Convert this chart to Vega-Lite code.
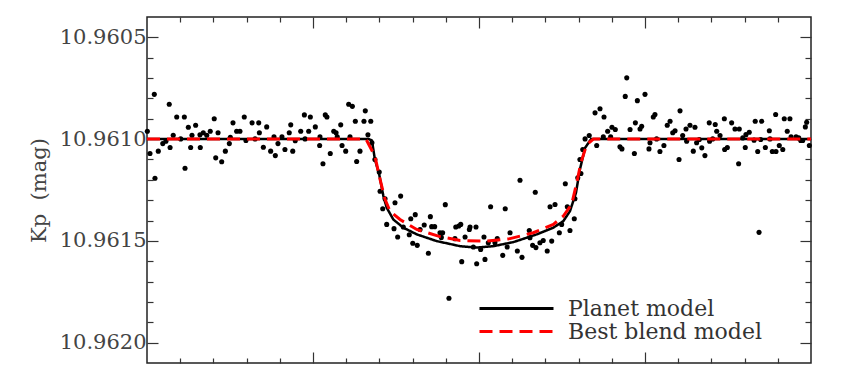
{
  "$schema": "https://vega.github.io/schema/vega-lite/v6.json",
  "width": 664,
  "height": 346,
  "autosize": {"type": "none"},
  "padding": {"left": 147, "top": 17, "right": 37, "bottom": 6},
  "background": "white",
  "config": {
    "view": {"stroke": "#222", "strokeWidth": 1.5},
    "axis": {
      "domain": false, "grid": false, "tickColor": "#333", "tickWidth": 1.2,
      "labelFont": "DejaVu Serif", "labelFontSize": 21, "labelColor": "#444",
      "titleFont": "DejaVu Serif", "titleFontSize": 21, "titleFontWeight": "normal", "titleColor": "#444"
    }
  },
  "datasets": {
    "pts": [
      {"x":-1.998,"mag":10.960961},{"x":-1.956,"mag":10.960780},{"x":-1.982,"mag":10.961071},{"x":-1.952,"mag":10.961192},{"x":-1.932,"mag":10.961059},{"x":-1.905,"mag":10.961022},{"x":-1.886,"mag":10.961010},{"x":-1.866,"mag":10.960829},{"x":-1.861,"mag":10.961041},{"x":-1.842,"mag":10.960981},{"x":-1.821,"mag":10.960891},{"x":-1.797,"mag":10.960999},{"x":-1.775,"mag":10.960891},{"x":-1.771,"mag":10.961143},{"x":-1.751,"mag":10.960942},{"x":-1.737,"mag":10.961041},{"x":-1.729,"mag":10.960981},{"x":-1.707,"mag":10.960932},{"x":-1.681,"mag":10.960979},{"x":-1.679,"mag":10.961041},{"x":-1.661,"mag":10.960969},{"x":-1.640,"mag":10.960981},{"x":-1.619,"mag":10.960961},{"x":-1.595,"mag":10.960900},{"x":-1.586,"mag":10.961092},{"x":-1.572,"mag":10.960969},{"x":-1.550,"mag":10.961111},{"x":-1.528,"mag":10.961059},{"x":-1.504,"mag":10.961022},{"x":-1.498,"mag":10.960991},{"x":-1.482,"mag":10.960920},{"x":-1.460,"mag":10.960961},{"x":-1.440,"mag":10.960961},{"x":-1.414,"mag":10.960891},{"x":-1.404,"mag":10.961007},{"x":-1.367,"mag":10.960920},{"x":-1.349,"mag":10.960999},{"x":-1.327,"mag":10.960920},{"x":-1.323,"mag":10.960969},{"x":-1.299,"mag":10.961040},{"x":-1.279,"mag":10.960940},{"x":-1.255,"mag":10.961059},{"x":-1.235,"mag":10.960989},{"x":-1.227,"mag":10.961081},{"x":-1.211,"mag":10.961022},{"x":-1.187,"mag":10.960989},{"x":-1.169,"mag":10.961051},{"x":-1.143,"mag":10.960969},{"x":-1.134,"mag":10.960930},{"x":-1.122,"mag":10.961059},{"x":-1.107,"mag":10.961008},{"x":-1.074,"mag":10.960961},{"x":-1.052,"mag":10.960881},{"x":-1.048,"mag":10.960999},{"x":-1.026,"mag":10.960961},{"x":-1.016,"mag":10.960891},{"x":-0.986,"mag":10.960940},{"x":-0.960,"mag":10.961031},{"x":-0.958,"mag":10.960989},{"x":-0.940,"mag":10.961121},{"x":-0.926,"mag":10.960881},{"x":-0.916,"mag":10.960891},{"x":-0.896,"mag":10.961071},{"x":-0.875,"mag":10.960961},{"x":-0.861,"mag":10.960969},{"x":-0.854,"mag":10.960989},{"x":-0.833,"mag":10.960930},{"x":-0.825,"mag":10.961031},{"x":-0.803,"mag":10.961059},{"x":-0.785,"mag":10.960829},{"x":-0.763,"mag":10.960839},{"x":-0.777,"mag":10.960989},{"x":-0.745,"mag":10.960912},{"x":-0.737,"mag":10.961110},{"x":-0.717,"mag":10.961059},{"x":-0.693,"mag":10.960912},{"x":-0.685,"mag":10.960861},{"x":-0.669,"mag":10.960979},{"x":-0.652,"mag":10.960912},{"x":-0.645,"mag":10.961018},
      {"x":-0.627,"mag":10.961100},{"x":-0.601,"mag":10.961162},{"x":-0.596,"mag":10.961256},{"x":-0.566,"mag":10.961293},{"x":-0.580,"mag":10.961342},{"x":-0.556,"mag":10.961419},{"x":-0.512,"mag":10.961440},{"x":-0.506,"mag":10.961313},{"x":-0.472,"mag":10.961280},{"x":-0.490,"mag":10.961481},{"x":-0.456,"mag":10.961432},{"x":-0.420,"mag":10.961470},{"x":-0.411,"mag":10.961391},{"x":-0.399,"mag":10.961512},{"x":-0.384,"mag":10.961371},{"x":-0.372,"mag":10.961522},{"x":-0.355,"mag":10.961444},{"x":-0.330,"mag":10.961422},{"x":-0.305,"mag":10.961561},{"x":-0.293,"mag":10.961381},{"x":-0.285,"mag":10.961430},{"x":-0.267,"mag":10.961430},{"x":-0.235,"mag":10.961460},{"x":-0.219,"mag":10.961460},{"x":-0.227,"mag":10.961483},{"x":-0.203,"mag":10.961322},{"x":-0.181,"mag":10.961782},{"x":-0.145,"mag":10.961489},{"x":-0.140,"mag":10.961432},{"x":-0.122,"mag":10.961427},{"x":-0.110,"mag":10.961419},{"x":-0.104,"mag":10.961602},{"x":-0.084,"mag":10.961481},{"x":-0.058,"mag":10.961444},{"x":-0.054,"mag":10.961432},{"x":-0.034,"mag":10.961530},{"x":-0.018,"mag":10.961432},{"x":-0.014,"mag":10.961612},{"x":0.010,"mag":10.961542},{"x":0.030,"mag":10.961481},{"x":0.036,"mag":10.961591},{"x":0.056,"mag":10.961509},{"x":0.070,"mag":10.961332},{"x":0.096,"mag":10.961509},{"x":0.110,"mag":10.961489},{"x":0.143,"mag":10.961571},{"x":0.158,"mag":10.961342},{"x":0.170,"mag":10.961530},{"x":0.187,"mag":10.961460},{"x":0.231,"mag":10.961550},{"x":0.259,"mag":10.961581},{"x":0.247,"mag":10.961202},{"x":0.303,"mag":10.961449},{"x":0.307,"mag":10.961484},{"x":0.323,"mag":10.961522},{"x":0.343,"mag":10.961533},{"x":0.339,"mag":10.961261},{"x":0.367,"mag":10.961509},{"x":0.387,"mag":10.961498},{"x":0.411,"mag":10.961550},{"x":0.428,"mag":10.961332},{"x":0.438,"mag":10.961501},{"x":0.458,"mag":10.961321},{"x":0.484,"mag":10.961460},{"x":0.498,"mag":10.961419},{"x":0.520,"mag":10.961219},{"x":0.532,"mag":10.961332},{"x":0.548,"mag":10.961449},{"x":0.574,"mag":10.961391},{"x":0.578,"mag":10.961293},{"x":0.595,"mag":10.961190},{"x":0.614,"mag":10.961169},{"x":0.608,"mag":10.961100},{"x":0.625,"mag":10.961051},{"x":0.639,"mag":10.960999},{"x":0.664,"mag":10.960982},{"x":0.709,"mag":10.961031},{"x":0.749,"mag":10.960989},
      {"x":0.699,"mag":10.960871},{"x":0.729,"mag":10.960851},{"x":0.753,"mag":10.960891},{"x":0.775,"mag":10.960961},{"x":0.793,"mag":10.960989},{"x":0.801,"mag":10.960942},{"x":0.821,"mag":10.960953},{"x":0.849,"mag":10.961038},{"x":0.861,"mag":10.961048},{"x":0.890,"mag":10.960699},{"x":0.881,"mag":10.960790},{"x":0.910,"mag":10.960953},{"x":0.936,"mag":10.961071},{"x":0.942,"mag":10.960920},{"x":0.954,"mag":10.960811},{"x":0.970,"mag":10.960950},{"x":0.980,"mag":10.960937},{"x":1.000,"mag":10.960780},{"x":1.024,"mag":10.961048},{"x":1.030,"mag":10.961018},{"x":1.050,"mag":10.960891},{"x":1.060,"mag":10.960879},{"x":1.070,"mag":10.960999},{"x":1.090,"mag":10.961061},{"x":1.114,"mag":10.961031},{"x":1.134,"mag":10.960932},{"x":1.151,"mag":10.960912},{"x":1.167,"mag":10.960969},{"x":1.181,"mag":10.960959},{"x":1.205,"mag":10.961100},{"x":1.211,"mag":10.960861},{"x":1.227,"mag":10.960982},{"x":1.247,"mag":10.960950},{"x":1.251,"mag":10.961010},{"x":1.271,"mag":10.960932},{"x":1.301,"mag":10.960942},{"x":1.311,"mag":10.961018},{"x":1.291,"mag":10.961059},{"x":1.327,"mag":10.961002},{"x":1.342,"mag":10.961043},{"x":1.361,"mag":10.961081},{"x":1.387,"mag":10.960920},{"x":1.389,"mag":10.961010},{"x":1.408,"mag":10.960999},{"x":1.423,"mag":10.960928},{"x":1.432,"mag":10.960961},{"x":1.452,"mag":10.960982},{"x":1.478,"mag":10.960900},{"x":1.480,"mag":10.961051},{"x":1.496,"mag":10.961041},{"x":1.522,"mag":10.960920},{"x":1.542,"mag":10.960950},{"x":1.568,"mag":10.960950},{"x":1.564,"mag":10.961121},{"x":1.589,"mag":10.960994},{"x":1.608,"mag":10.960978},{"x":1.628,"mag":10.960966},{"x":1.604,"mag":10.961041},{"x":1.657,"mag":10.961005},{"x":1.664,"mag":10.960912},{"x":1.679,"mag":10.961061},{"x":1.687,"mag":10.961458},{"x":1.703,"mag":10.960912},{"x":1.697,"mag":10.961002},{"x":1.725,"mag":10.961041},{"x":1.749,"mag":10.960959},{"x":1.753,"mag":10.960999},{"x":1.767,"mag":10.961061},{"x":1.787,"mag":10.960879},{"x":1.789,"mag":10.961061},{"x":1.809,"mag":10.961031},{"x":1.830,"mag":10.961051},{"x":1.839,"mag":10.960900},{"x":1.857,"mag":10.960961},{"x":1.873,"mag":10.960900},{"x":1.880,"mag":10.960989},{"x":1.910,"mag":10.960989},{"x":1.926,"mag":10.960994},{"x":1.938,"mag":10.961007},{"x":1.950,"mag":10.961007},{"x":1.966,"mag":10.960940},{"x":1.974,"mag":10.960917},{"x":1.990,"mag":10.961031}
    ],
    "planet": [
      {"model":"Planet model","x":-2.0,"mag":10.9610},{"model":"Planet model","x":-0.663,"mag":10.9610},{"model":"Planet model","x":-0.645,"mag":10.961007},{"model":"Planet model","x":-0.627,"mag":10.961100},{"model":"Planet model","x":-0.601,"mag":10.961174},{"model":"Planet model","x":-0.576,"mag":10.961280},{"model":"Planet model","x":-0.556,"mag":10.961337},{"model":"Planet model","x":-0.516,"mag":10.961395},{"model":"Planet model","x":-0.456,"mag":10.961435},{"model":"Planet model","x":-0.375,"mag":10.961468},{"model":"Planet model","x":-0.255,"mag":10.961501},{"model":"Planet model","x":-0.114,"mag":10.961526},{"model":"Planet model","x":-0.014,"mag":10.961533},{"model":"Planet model","x":0.086,"mag":10.961526},{"model":"Planet model","x":0.207,"mag":10.961506},{"model":"Planet model","x":0.348,"mag":10.961468},{"model":"Planet model","x":0.448,"mag":10.961435},{"model":"Planet model","x":0.508,"mag":10.961403},{"model":"Planet model","x":0.548,"mag":10.961354},{"model":"Planet model","x":0.584,"mag":10.961264},{"model":"Planet model","x":0.608,"mag":10.961149},{"model":"Planet model","x":0.639,"mag":10.961043},{"model":"Planet model","x":0.675,"mag":10.9610},{"model":"Planet model","x":2.0,"mag":10.9610}
    ],
    "blend": [
      {"model":"Best blend model","x":-2.0,"mag":10.9610},{"model":"Best blend model","x":-0.681,"mag":10.9610},{"model":"Best blend model","x":-0.627,"mag":10.961084},{"model":"Best blend model","x":-0.596,"mag":10.961198},{"model":"Best blend model","x":-0.566,"mag":10.961296},{"model":"Best blend model","x":-0.536,"mag":10.961354},{"model":"Best blend model","x":-0.476,"mag":10.961395},{"model":"Best blend model","x":-0.375,"mag":10.961444},{"model":"Best blend model","x":-0.235,"mag":10.961479},{"model":"Best blend model","x":-0.114,"mag":10.961498},{"model":"Best blend model","x":0.046,"mag":10.961501},{"model":"Best blend model","x":0.187,"mag":10.961489},{"model":"Best blend model","x":0.327,"mag":10.961460},{"model":"Best blend model","x":0.448,"mag":10.961419},{"model":"Best blend model","x":0.508,"mag":10.961378},{"model":"Best blend model","x":0.558,"mag":10.961321},{"model":"Best blend model","x":0.589,"mag":10.961214},{"model":"Best blend model","x":0.614,"mag":10.961116},{"model":"Best blend model","x":0.649,"mag":10.961027},{"model":"Best blend model","x":0.689,"mag":10.9610},{"model":"Best blend model","x":2.0,"mag":10.9610}
    ]
  },
  "resolve": {"axis": {"x": "independent", "y": "independent"}},
  "layer": [
    {
      "data": {"name": "pts"},
      "mark": {"type": "circle", "size": 26, "color": "black", "opacity": 1},
      "encoding": {
        "x": {"field": "x", "type": "quantitative", "scale": {"domain": [-2, 2], "nice": false, "zero": false},
          "axis": {"orient": "bottom", "title": null, "labels": false,
            "values": [-1.8,-1.6,-1.4,-1.2,-1,-0.8,-0.6,-0.4,-0.2,0,0.2,0.4,0.6,0.8,1,1.2,1.4,1.6,1.8],
            "tickSize": {"condition": {"test": "abs(datum.value - round(datum.value)) < 0.01", "value": -11}, "value": -5}}},
        "y": {"field": "mag", "type": "quantitative", "scale": {"domain": [10.96040, 10.96210], "reverse": true, "nice": false, "zero": false},
          "axis": {"orient": "left", "title": "Kp\u00a0\u00a0(mag)", "titlePadding": 10, "format": ".4f", "labelPadding": 12,
            "values": [10.9605,10.9606,10.9607,10.9608,10.9609,10.9610,10.9611,10.9612,10.9613,10.9614,10.9615,10.9616,10.9617,10.9618,10.9619,10.9620],
            "labelExpr": "abs(datum.value*2000 - round(datum.value*2000)) < 0.01 ? datum.label : ''",
            "tickSize": {"condition": {"test": "abs(datum.value*2000 - round(datum.value*2000)) < 0.01", "value": -11}, "value": -6}}}
      }
    },
    {
      "data": {"name": "planet"},
      "mark": {"type": "line", "strokeWidth": 2.5},
      "encoding": {
        "x": {"field": "x", "type": "quantitative", "scale": {"domain": [-2, 2], "nice": false, "zero": false},
          "axis": {"orient": "top", "title": null, "labels": false,
            "values": [-1.8,-1.6,-1.4,-1.2,-1,-0.8,-0.6,-0.4,-0.2,0,0.2,0.4,0.6,0.8,1,1.2,1.4,1.6,1.8],
            "tickSize": {"condition": {"test": "abs(datum.value - round(datum.value)) < 0.01", "value": -11}, "value": -5}}},
        "y": {"field": "mag", "type": "quantitative", "scale": {"domain": [10.96040, 10.96210], "reverse": true, "nice": false, "zero": false},
          "axis": {"orient": "right", "title": null, "labels": false,
            "values": [10.9605,10.9606,10.9607,10.9608,10.9609,10.9610,10.9611,10.9612,10.9613,10.9614,10.9615,10.9616,10.9617,10.9618,10.9619,10.9620],
            "tickSize": {"condition": {"test": "abs(datum.value*2000 - round(datum.value*2000)) < 0.01", "value": -11}, "value": -6}}},
        "color": {"field": "model", "type": "nominal",
          "scale": {"domain": ["Planet model", "Best blend model"], "range": ["#000000", "#ff0000"]},
          "legend": {"orient": "none", "legendX": 331, "legendY": 281, "title": null, "symbolType": "stroke", "symbolSize": 5476, "symbolStrokeWidth": 3,
            "labelFont": "DejaVu Serif", "labelFontSize": 22, "labelColor": "#333", "labelOffset": 13, "labelLimit": 400, "clipHeight": 21, "rowPadding": 0, "padding": 0}},
        "strokeDash": {"field": "model", "type": "nominal",
          "scale": {"domain": ["Planet model", "Best blend model"], "range": [[1, 0], [13, 7]]}}
      }
    },
    {
      "data": {"name": "blend"},
      "mark": {"type": "line", "strokeWidth": 3},
      "encoding": {
        "x": {"field": "x", "type": "quantitative", "axis": null},
        "y": {"field": "mag", "type": "quantitative", "axis": null},
        "color": {"field": "model", "type": "nominal"},
        "strokeDash": {"field": "model", "type": "nominal"}
      }
    }
  ]
}
